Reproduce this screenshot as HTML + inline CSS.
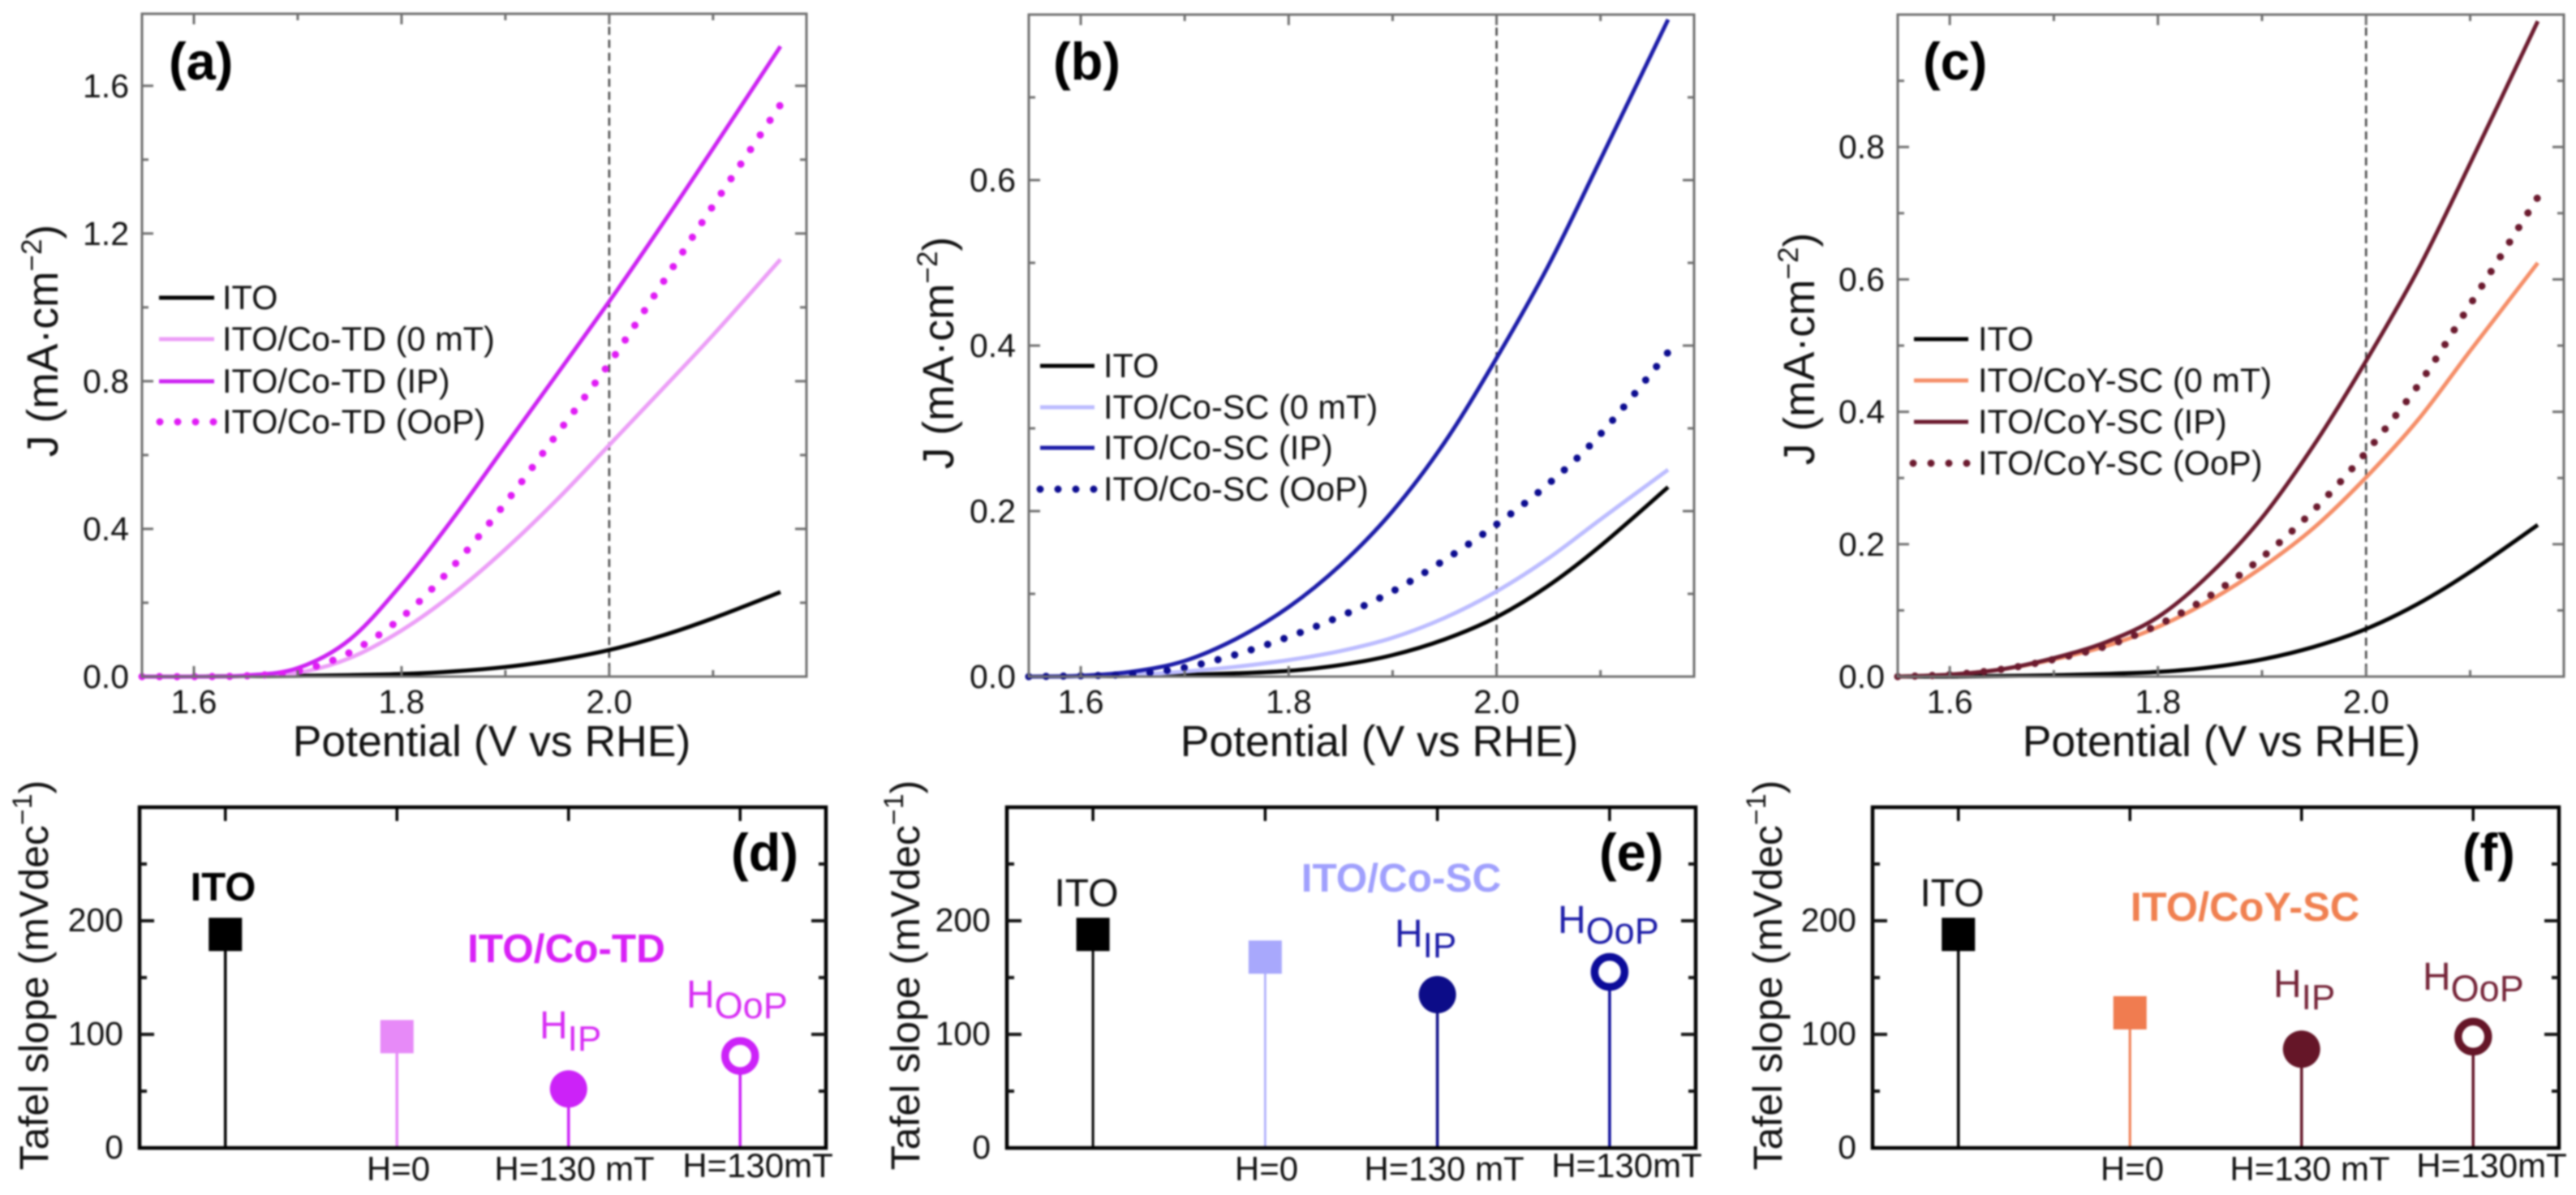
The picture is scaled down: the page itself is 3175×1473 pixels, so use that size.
<!DOCTYPE html>
<html lang="en">
<head>
<meta charset="utf-8">
<title>Tafel and LSV panels</title>
<style>
html,body{margin:0;padding:0;background:#fff;width:3175px;height:1473px;overflow:hidden}
svg{display:block;filter:blur(1.1px)}
text{font-family:"Liberation Sans",sans-serif;fill:#111}
.tick{font-size:41px}
.xt{font-size:53.5px}
.yt{font-size:53.5px}
.ybt{font-size:50px}
.leg{font-size:41.5px}
.hl{font-size:42px}
.pl{font-size:65px;font-weight:bold;fill:#000}
</style>
</head>
<body>
<svg id="figure" xmlns="http://www.w3.org/2000/svg" width="3175" height="1473" viewBox="0 0 3175 1473">
<rect x="0" y="0" width="3175" height="1473" fill="#fff"/>

<g id="panel-a"></g>
<g id="panel-b"></g>
<g id="panel-c"></g>
<g id="panel-d"></g>
<g id="panel-e"></g>
<g id="panel-f"></g>

<!-- Panel labels -->
<text class="pl" x="208" y="98">(a)</text>
<text class="pl" x="1298" y="98">(b)</text>
<text class="pl" x="2370" y="98">(c)</text>
<text class="pl" x="901" y="1073">(d)</text>
<text class="pl" x="1971" y="1073">(e)</text>
<text class="pl" x="3035" y="1073">(f)</text>

<!-- X titles -->
<text class="xt" x="606" y="932" text-anchor="middle">Potential (V vs RHE)</text>
<text class="xt" x="1700" y="932" text-anchor="middle">Potential (V vs RHE)</text>
<text class="xt" x="2738" y="932" text-anchor="middle">Potential (V vs RHE)</text>

<!-- Y titles top -->
<text class="yt" transform="translate(71 420) rotate(-90)" text-anchor="middle">J (mA·cm<tspan font-size="35" dy="-20">−2</tspan><tspan dy="20">)</tspan></text>
<text class="yt" transform="translate(1175 435) rotate(-90)" text-anchor="middle">J (mA·cm<tspan font-size="35" dy="-20">−2</tspan><tspan dy="20">)</tspan></text>
<text class="yt" transform="translate(2236 430) rotate(-90)" text-anchor="middle">J (mA·cm<tspan font-size="35" dy="-20">−2</tspan><tspan dy="20">)</tspan></text>

<!-- Y titles bottom -->
<text class="ybt" transform="translate(59 1202) rotate(-90)" text-anchor="middle">Tafel slope (mVdec<tspan font-size="34" dy="-20">−1</tspan><tspan dy="20">)</tspan></text>
<text class="ybt" transform="translate(1133 1202) rotate(-90)" text-anchor="middle">Tafel slope (mVdec<tspan font-size="34" dy="-20">−1</tspan><tspan dy="20">)</tspan></text>
<text class="ybt" transform="translate(2196 1202) rotate(-90)" text-anchor="middle">Tafel slope (mVdec<tspan font-size="34" dy="-20">−1</tspan><tspan dy="20">)</tspan></text>

<!-- Legend a -->
<g>
<line x1="196" x2="264" y1="367" y2="367" stroke="#000" stroke-width="5"/>
<text class="leg" x="274" y="381">ITO</text>
<line x1="196" x2="264" y1="418" y2="418" stroke="#ec9ef7" stroke-width="5"/>
<text class="leg" x="274" y="432">ITO/Co-TD (0 mT)</text>
<line x1="196" x2="264" y1="470" y2="470" stroke="#cc22f2" stroke-width="5"/>
<text class="leg" x="274" y="484">ITO/Co-TD (IP)</text>
<line x1="197" x2="266" y1="520" y2="520" stroke="#e01cf5" stroke-width="9" stroke-linecap="round" stroke-dasharray="0 22"/>
<text class="leg" x="274" y="534">ITO/Co-TD (OoP)</text>
</g>

<!-- Legend b -->
<g>
<line x1="1282" x2="1349" y1="451" y2="451" stroke="#000" stroke-width="5"/>
<text class="leg" x="1360" y="465">ITO</text>
<line x1="1282" x2="1349" y1="502" y2="502" stroke="#bcbcff" stroke-width="5"/>
<text class="leg" x="1360" y="516">ITO/Co-SC (0 mT)</text>
<line x1="1282" x2="1349" y1="552" y2="552" stroke="#1c1ca8" stroke-width="5"/>
<text class="leg" x="1360" y="566">ITO/Co-SC (IP)</text>
<line x1="1282" x2="1351" y1="603" y2="603" stroke="#0c0c90" stroke-width="9" stroke-linecap="round" stroke-dasharray="0 22"/>
<text class="leg" x="1360" y="617">ITO/Co-SC (OoP)</text>
</g>

<!-- Legend c -->
<g>
<line x1="2359" x2="2426" y1="418" y2="418" stroke="#000" stroke-width="5"/>
<text class="leg" x="2438" y="432">ITO</text>
<line x1="2359" x2="2426" y1="469" y2="469" stroke="#f58e68" stroke-width="5"/>
<text class="leg" x="2438" y="483">ITO/CoY-SC (0 mT)</text>
<line x1="2359" x2="2426" y1="520" y2="520" stroke="#6b1a2e" stroke-width="5"/>
<text class="leg" x="2438" y="534">ITO/CoY-SC (IP)</text>
<line x1="2358" x2="2428" y1="571" y2="571" stroke="#6b1a2e" stroke-width="9" stroke-linecap="round" stroke-dasharray="0 22"/>
<text class="leg" x="2438" y="585">ITO/CoY-SC (OoP)</text>
</g>

<!-- Panel d annotations -->
<text x="275" y="1110" text-anchor="middle" font-size="49" font-weight="bold" style="fill:#000">ITO</text>
<text x="698" y="1186" text-anchor="middle" font-size="49.5" font-weight="bold" style="fill:#d820f6">ITO/Co-TD</text>
<text x="665" y="1280" font-size="48" style="fill:#d72cf4">H<tspan font-size="44" dy="15">IP</tspan></text>
<text x="846" y="1242" font-size="48" style="fill:#d72cf4">H<tspan font-size="45" dy="13">OoP</tspan></text>
<text class="hl" x="491" y="1455" text-anchor="middle">H=0</text>
<text class="hl" x="708" y="1455" text-anchor="middle">H=130 mT</text>
<text class="hl" x="934" y="1451" text-anchor="middle">H=130mT</text>

<!-- Panel e annotations -->
<text x="1339" y="1117" text-anchor="middle" font-size="48">ITO</text>
<text x="1727" y="1099" text-anchor="middle" font-size="49.5" font-weight="bold" style="fill:#a0a0fd">ITO/Co-SC</text>
<text x="1719" y="1167" font-size="48" style="fill:#1c1ca8">H<tspan font-size="44" dy="13">IP</tspan></text>
<text x="1920" y="1150" font-size="48" style="fill:#1c1ca8">H<tspan font-size="45" dy="13">OoP</tspan></text>
<text class="hl" x="1561" y="1455" text-anchor="middle">H=0</text>
<text class="hl" x="1780" y="1455" text-anchor="middle">H=130 mT</text>
<text class="hl" x="2005" y="1451" text-anchor="middle">H=130mT</text>

<!-- Panel f annotations -->
<text x="2406" y="1117" text-anchor="middle" font-size="48">ITO</text>
<text x="2767" y="1135" text-anchor="middle" font-size="50.5" font-weight="bold" style="fill:#f08050">ITO/CoY-SC</text>
<text x="2802" y="1229" font-size="48" style="fill:#742337">H<tspan font-size="44" dy="15">IP</tspan></text>
<text x="2986" y="1220" font-size="48" style="fill:#742337">H<tspan font-size="45" dy="14">OoP</tspan></text>
<text class="hl" x="2628" y="1455" text-anchor="middle">H=0</text>
<text class="hl" x="2847" y="1455" text-anchor="middle">H=130 mT</text>
<text class="hl" x="3071" y="1451" text-anchor="middle">H=130mT</text>
</svg>

<script>
// Shared potential grid (V vs RHE)
const potentials = [1.55, 1.6, 1.65, 1.7, 1.75, 1.8, 1.85, 1.9, 1.95, 2.0, 2.05, 2.1, 2.165];

// Top row current densities (mA/cm2)
const itoA = [0, 0, 0.001, 0.002, 0.004, 0.007, 0.014, 0.026, 0.045, 0.072, 0.11, 0.158, 0.229];
const coTd0 = [0, 0, 0.001, 0.01, 0.05, 0.125, 0.225, 0.345, 0.48, 0.627, 0.775, 0.925, 1.13];
const coTdIp = [0, 0, 0.003, 0.023, 0.1, 0.25, 0.43, 0.625, 0.82, 1.016, 1.22, 1.43, 1.707];
const coTdOop = [0, 0, 0.002, 0.015, 0.065, 0.16, 0.3, 0.47, 0.658, 0.848, 1.06, 1.275, 1.549];

const itoB = [0, 0, 0.001, 0.002, 0.004, 0.007, 0.014, 0.026, 0.045, 0.072, 0.11, 0.158, 0.229];
const coSc0 = [0, 0, 0.002, 0.006, 0.012, 0.02, 0.031, 0.047, 0.071, 0.103, 0.143, 0.19, 0.25];
const coScIp = [0, 0.001, 0.006, 0.019, 0.046, 0.084, 0.135, 0.2, 0.283, 0.385, 0.497, 0.625, 0.794];
const coScOop = [0, 0.001, 0.003, 0.011, 0.027, 0.048, 0.073, 0.103, 0.141, 0.184, 0.233, 0.293, 0.392];

const itoC = [0, 0, 0.001, 0.002, 0.004, 0.007, 0.014, 0.026, 0.045, 0.072, 0.11, 0.158, 0.229];
const coySc0 = [0, 0.003, 0.011, 0.026, 0.046, 0.075, 0.115, 0.165, 0.225, 0.301, 0.388, 0.492, 0.625];
const coyScIp = [0, 0.003, 0.011, 0.028, 0.052, 0.09, 0.155, 0.24, 0.35, 0.477, 0.615, 0.775, 0.99];
const coyScOop = [0, 0.003, 0.011, 0.026, 0.046, 0.078, 0.122, 0.18, 0.252, 0.339, 0.44, 0.562, 0.724];

// Bottom row Tafel slopes (mV/dec)
const tafelCategories = ['ITO', 'H=0', 'HIP', 'HOoP'];
const tafelD = [188, 98, 52, 81];
const tafelE = [188, 168, 135, 155];
const tafelF = [188, 119, 87, 98];

// Tick labels
const xTickLabels = ['1.6', '1.8', '2.0'];
const yTicksA = ['0.0', '0.4', '0.8', '1.2', '1.6'];
const yTicksB = ['0.0', '0.2', '0.4', '0.6'];
const yTicksC = ['0.0', '0.2', '0.4', '0.6', '0.8'];
const yTicksTafel = ['0', '100', '200'];

const SVGNS = 'http://www.w3.org/2000/svg';

function linear(d0, d1, r0, r1) {
  return function (v) { return r0 + (v - d0) * (r1 - r0) / (d1 - d0); };
}
function shape(parent, tag, attrs) {
  const el = document.createElementNS(SVGNS, tag);
  Object.keys(attrs).forEach(function (k) { el.setAttribute(k, attrs[k]); });
  parent.appendChild(el);
  return el;
}
function smoothPath(pts) {
  let d = 'M' + pts[0][0].toFixed(1) + ' ' + pts[0][1].toFixed(1);
  for (let i = 0; i < pts.length - 1; i++) {
    const p0 = pts[Math.max(0, i - 1)], p1 = pts[i], p2 = pts[i + 1], p3 = pts[Math.min(pts.length - 1, i + 2)];
    const c1x = p1[0] + (p2[0] - p0[0]) / 6, c1y = p1[1] + (p2[1] - p0[1]) / 6;
    const c2x = p2[0] - (p3[0] - p1[0]) / 6, c2y = p2[1] - (p3[1] - p1[1]) / 6;
    d += 'C' + c1x.toFixed(1) + ' ' + c1y.toFixed(1) + ' ' + c2x.toFixed(1) + ' ' + c2y.toFixed(1) + ' ' + p2[0].toFixed(1) + ' ' + p2[1].toFixed(1);
  }
  return d;
}

function tickLine(g, x1, y1, x2, y2, color, width) {
  const t = shape(g, 'line', { x1: x1, y1: y1, x2: x2, y2: y2, stroke: color, 'stroke-width': width });
  
  
}
function tickText(g, x, y, anchor, label) {
  const t = shape(g, 'text', { x: x, y: y, 'text-anchor': anchor, 'class': 'tick' });
  t.textContent = label;
  
  
}

function drawLsvPanel(id, frame, yMax, yStep, yLabels, series) {
  const g = document.getElementById(id);
  const xS = linear(1.55, 2.19, frame.l, frame.r);
  const yS = linear(0, yMax, frame.b, frame.t);
  const axisColor = '#6f6f6f';

  const vline = shape(g, 'line', { x1: xS(2), x2: xS(2), y1: frame.t, y2: frame.b, stroke: '#444', 'stroke-width': 2.5, 'stroke-dasharray': '10 6' });
  
  

  series.forEach(function (s) {
    const pts = potentials.map(function (p, i) { return [xS(p), yS(s.values[i])]; });
    const attrs = { d: smoothPath(pts), fill: 'none', stroke: s.color };
    attrs['stroke-width'] = 5;
    const path = shape(g, 'path', attrs);
    if (s.dotted) {
      const total = path.getTotalLength();
      const gap = 0.998 * total / Math.round(total / 21.5);
      path.setAttribute('stroke-width', 9);
      path.setAttribute('stroke-linecap', 'round');
      path.setAttribute('stroke-dasharray', '0.01 ' + gap.toFixed(3));
    }
    
    
  });

  const box = shape(g, 'rect', { x: frame.l, y: frame.t, width: frame.r - frame.l, height: frame.b - frame.t, fill: 'none', stroke: axisColor, 'stroke-width': 3 });
  
  

  xTickLabels.forEach(function (lab) {
    const x = xS(parseFloat(lab));
    tickLine(g, x, frame.b, x, frame.b - 13, axisColor, 3);
    tickLine(g, x, frame.t, x, frame.t + 13, axisColor, 3);
    tickText(g, x, 879, 'middle', lab);
    const mx = xS(parseFloat(lab) + 0.1);
    tickLine(g, mx, frame.b, mx, frame.b - 8, axisColor, 3);
    tickLine(g, mx, frame.t, mx, frame.t + 8, axisColor, 3);
  });

  yLabels.forEach(function (lab) {
    const v = parseFloat(lab);
    const y = yS(v);
    if (v > 0) {
      tickLine(g, frame.l, y, frame.l + 14, y, axisColor, 3);
      tickLine(g, frame.r, y, frame.r - 14, y, axisColor, 3);
    }
    tickText(g, frame.l - 16, y + 14, 'end', lab);
    const m = yS(v + yStep / 2);
    if (v + yStep / 2 < yMax) {
      tickLine(g, frame.l, m, frame.l + 8, m, axisColor, 3);
      tickLine(g, frame.r, m, frame.r - 8, m, axisColor, 3);
    }
  });
}

function drawTafelPanel(id, frame, values, colors, widths) {
  const g = document.getElementById(id);
  const xS = linear(-0.5, 3.5, frame.l, frame.r);
  const yS = linear(0, 300, frame.b, frame.t);

  values.forEach(function (v, i) {
    const x = xS(i);
    const y = yS(v);
    const stem = shape(g, 'line', { x1: x, x2: x, y1: yS(0), y2: y, stroke: colors[i], 'stroke-width': widths[i] });
    
    
    let mark;
    if (i < 2) {
      mark = shape(g, 'rect', { x: x - 20.5, y: y - 20.5, width: 41, height: 41, fill: colors[i] });
    } else if (i === 2) {
      mark = shape(g, 'circle', { cx: x, cy: y, r: 23, fill: colors[i] });
    } else {
      mark = shape(g, 'circle', { cx: x, cy: y, r: 18.5, fill: '#fff', stroke: colors[i], 'stroke-width': 9.5 });
    }
    
    
  });

  const box = shape(g, 'rect', { x: frame.l, y: frame.t, width: frame.r - frame.l, height: frame.b - frame.t, fill: 'none', stroke: '#000', 'stroke-width': 4.5 });
  
  

  tafelCategories.forEach(function (c, i) {
    tickLine(g, xS(i), frame.t, xS(i), frame.t + 17, '#000', 3.5);
  });
  yTicksTafel.forEach(function (lab) {
    const v = parseFloat(lab);
    const y = yS(v);
    if (v > 0) {
      tickLine(g, frame.l, y, frame.l + 18, y, '#111', 4);
      tickLine(g, frame.r, y, frame.r - 18, y, '#111', 4);
    }
    tickText(g, frame.l - 20, y + 13, 'end', lab);
    const m = yS(v + 50);
    tickLine(g, frame.l, m, frame.l + 9, m, '#111', 4);
    tickLine(g, frame.r, m, frame.r - 9, m, '#111', 4);
  });
}

drawLsvPanel('panel-a', { l: 175, r: 994, t: 17, b: 834 }, 1.795, 0.4, yTicksA, [
  { name: 'curve-ito', values: itoA, color: '#000' },
  { name: 'curve-co-td-0mt', values: coTd0, color: '#ec9ef7' },
  { name: 'curve-co-td-ip', values: coTdIp, color: '#cc22f2' },
  { name: 'curve-co-td-oop', values: coTdOop, color: '#e01cf5', dotted: true }
]);
drawLsvPanel('panel-b', { l: 1268, r: 2088, t: 18, b: 834 }, 0.8, 0.2, yTicksB, [
  { name: 'curve-ito', values: itoB, color: '#000' },
  { name: 'curve-co-sc-0mt', values: coSc0, color: '#bcbcff' },
  { name: 'curve-co-sc-ip', values: coScIp, color: '#1c1ca8' },
  { name: 'curve-co-sc-oop', values: coScOop, color: '#0c0c90', dotted: true }
]);
drawLsvPanel('panel-c', { l: 2339, r: 3160, t: 18, b: 834 }, 1.0, 0.2, yTicksC, [
  { name: 'curve-ito', values: itoC, color: '#000' },
  { name: 'curve-coy-sc-0mt', values: coySc0, color: '#f58e68' },
  { name: 'curve-coy-sc-ip', values: coyScIp, color: '#6b1a2e' },
  { name: 'curve-coy-sc-oop', values: coyScOop, color: '#6b1a2e', dotted: true }
]);

drawTafelPanel('panel-d', { l: 172, r: 1018, t: 995, b: 1415 }, tafelD, ['#000', '#e78af8', '#cc22f8', '#cc22f8'], [3.5, 3.5, 3.5, 3.5]);
drawTafelPanel('panel-e', { l: 1241, r: 2090, t: 995, b: 1415 }, tafelE, ['#000', '#a8a8fc', '#0c0c88', '#0c0c9a'], [3, 2.5, 3.5, 3.5]);
drawTafelPanel('panel-f', { l: 2308, r: 3154, t: 995, b: 1415 }, tafelF, ['#000', '#f07c50', '#651628', '#651628'], [3.5, 3, 3.5, 3.5]);
</script>
</body>
</html>
